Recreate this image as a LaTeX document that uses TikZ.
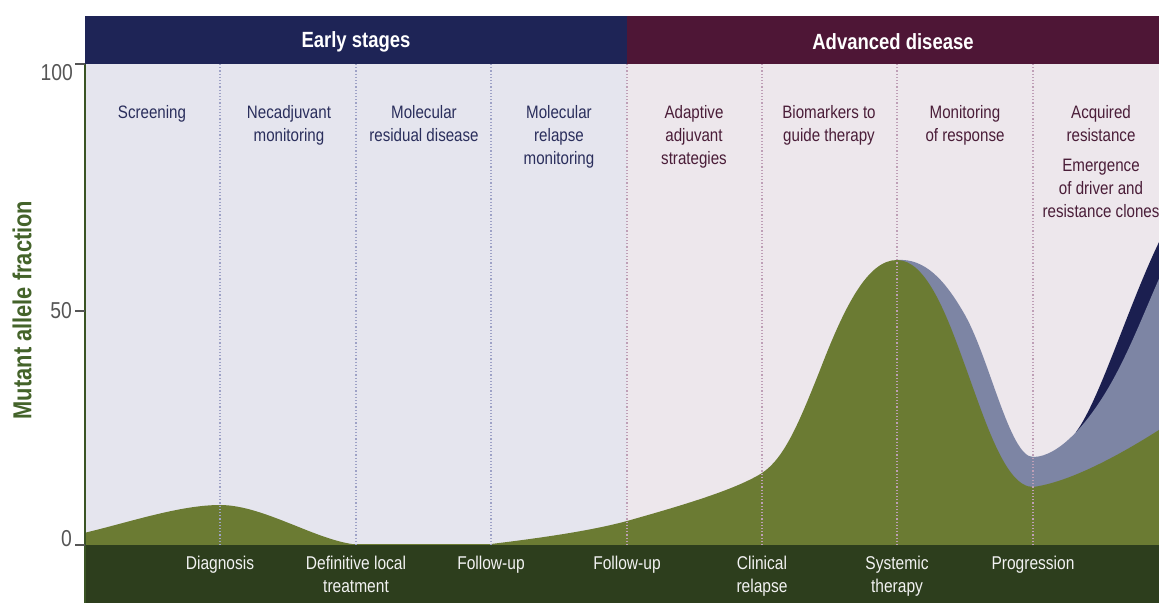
\documentclass[tikz,border=0pt]{standalone}
\usepackage{fontspec}
\setmainfont{Liberation Sans}[FakeStretch=0.84]
\definecolor{bgearly}{HTML}{E5E5EE}
\definecolor{bgadv}{HTML}{EDE7EC}
\definecolor{hdrnavy}{HTML}{1E2456}
\definecolor{hdrmaroon}{HTML}{4E1636}
\definecolor{bandgreen}{HTML}{2D3E1D}
\definecolor{areagreen}{HTML}{6B7B33}
\definecolor{clonelav}{HTML}{7D85A4}
\definecolor{clonenavy}{HTML}{1B1F50}
\definecolor{txtnavy}{HTML}{2A2E5C}
\definecolor{txtmaroon}{HTML}{4A1D38}
\definecolor{axgreen}{HTML}{3A5424}
\definecolor{labgreen}{HTML}{44632A}
\definecolor{dotblue}{HTML}{9EA2C6}
\definecolor{dotpink}{HTML}{BE9FB6}
\definecolor{ticktxt}{HTML}{555555}
\begin{document}
\begin{tikzpicture}[x=1pt,y=-1pt,
  collabel/.style={anchor=north,inner sep=0pt,align=center,font=\fontsize{18}{23}\selectfont},
  earlylab/.style={collabel,text=txtnavy},
  advlab/.style={collabel,text=txtmaroon},
  botlab/.style={anchor=north,inner sep=0pt,align=center,text=white!90!gray,font=\fontsize{18.5}{23}\selectfont},
  hdrlab/.style={inner sep=0pt,text=white,font=\bfseries\fontsize{22}{26}\selectfont},
  ticklab/.style={anchor=east,inner sep=0pt,text=ticktxt,font=\fontsize{23}{26}\selectfont},
  gridline/.style={line width=1.1pt,dash pattern=on 1.2pt off 2pt}
]
\useasboundingbox (0,0) rectangle (1159,603);
\fill[white] (0,0) rectangle (1159,603);
% backgrounds
\fill[bgearly] (85,64) rectangle (627,545);
\fill[bgadv] (627,64) rectangle (1159,545);
% headers
\fill[hdrnavy] (85,16) rectangle (627,64);
\fill[hdrmaroon] (627,16) rectangle (1159,64);
\node[hdrlab] (early) at (356,42) {Early stages};
\node[hdrlab] (adv) at (893,42) {Advanced disease};
% curves
\begin{scope}
\clip (86,64) rectangle (1159,545);
\fill[clonenavy] (1076,432) .. controls (1100,400) and (1130,300) .. (1162,236) -- (1162,545) -- (1076,545) -- cycle;
\fill[clonelav] (897,260) .. controls (925,258) and (945,280) .. (965,315)
  .. controls (990,360) and (1010,457) .. (1033,457)
  .. controls (1060,457) and (1090,420) .. (1110,385)
  .. controls (1130,350) and (1145,310) .. (1162,272) -- (1162,545) -- (897,545) -- cycle;
\fill[areagreen] (84,545) -- (84,533) .. controls (130,522) and (180,505) .. (220,505)
  .. controls (262,505) and (312,538) .. (352,544) -- (491,544)
  .. controls (540,538) and (590,531) .. (627,521)
  .. controls (680,506) and (735,490) .. (762,473)
  .. controls (785,458) and (800,420) .. (820,370)
  .. controls (845,305) and (868,260) .. (897,260)
  .. controls (925,260) and (945,310) .. (963,360)
  .. controls (985,420) and (1005,487) .. (1033,487)
  .. controls (1070,482) and (1120,455) .. (1162,428) -- (1162,545) -- cycle;
\end{scope}
% grid lines
\foreach \gx in {220,356,491} \draw[gridline,dotblue] (\gx,64) -- (\gx,545);
\foreach \gx in {627,762,897,1033} \draw[gridline,dotpink] (\gx,64) -- (\gx,545);
% bottom band
\fill[bandgreen] (85,545) rectangle (1159,603);
% axis
\draw[axgreen,line width=2.2pt] (85,64) -- (85,603);
\draw[ticktxt,line width=1.5pt] (75,64) -- (85,64);
\draw[ticktxt,line width=1.5pt] (75,311) -- (85,311);
\draw[ticktxt,line width=1.5pt] (75,545) -- (85,545);
\node[ticklab] (t100) at (73,73) {100};
\node[ticklab] (t50) at (72,311) {50};
\node[ticklab] (t0) at (72,539) {0};
\node[rotate=90,inner sep=0pt,text=labgreen,font=\bfseries\fontsize{26}{30}\selectfont] (ylab) at (22,310) {Mutant allele fraction};
% column labels
\node[earlylab] (c1) at (152,105) {Screening};
\node[earlylab] (c2) at (289,105) {Necadjuvant\\monitoring};
\node[earlylab] (c3) at (424,105) {Molecular\\residual disease};
\node[earlylab] (c4) at (559,105) {Molecular\\relapse\\monitoring};
\node[advlab] (c5) at (694,105) {Adaptive\\adjuvant\\strategies};
\node[advlab] (c6) at (829,105) {Biomarkers to\\guide therapy};
\node[advlab] (c7) at (965,105) {Monitoring\\of response};
\node[advlab] (c8) at (1101,105) {Acquired\\resistance};
\node[advlab] (c9) at (1101,159) {Emergence\\of driver and\\resistance clones};
% bottom labels
\node[botlab] (b1) at (220,556) {Diagnosis};
\node[botlab] (b2) at (356,556) {Definitive local\\treatment};
\node[botlab] (b3) at (491,556) {Follow-up};
\node[botlab] (b4) at (627,556) {Follow-up};
\node[botlab] (b5) at (762,556) {Clinical\\relapse};
\node[botlab] (b6) at (897,556) {Systemic\\therapy};
\node[botlab] (b7) at (1033,556) {Progression};
\end{tikzpicture}
\end{document}
